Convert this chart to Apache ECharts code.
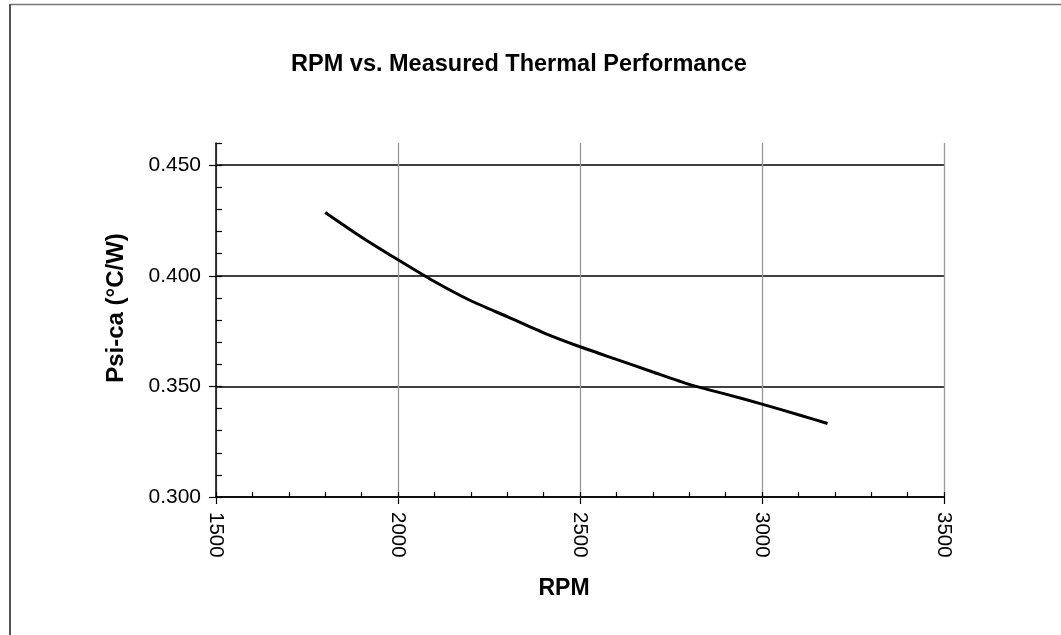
<!DOCTYPE html>
<html>
<head>
<meta charset="utf-8">
<script src="https://cdn.jsdelivr.net/npm/echarts@6/dist/echarts.min.js"></script>
<style>
html,body{margin:0;padding:0;background:#fff;}
#chart{width:1061px;height:635px;}
</style>
</head>
<body>
<div id="chart"></div>
<script>
// Data
const rpm = [1800, 1900, 2000, 2100, 2200, 2300, 2400, 2500, 2600, 2700, 2800, 2900, 3000, 3100, 3180];
const psiCa = [0.4286, 0.4174, 0.4072, 0.3974, 0.3887, 0.3815, 0.3742, 0.3679, 0.3622, 0.3565, 0.3509, 0.3465, 0.3420, 0.3372, 0.3332];
const yMajorTicks = [0.30, 0.35, 0.40, 0.45];
const xMajorTicks = [1500, 2000, 2500, 3000, 3500];

const FONT = '"Liberation Sans", Arial, sans-serif';
const seriesData = rpm.map((r, i) => [r, psiCa[i]]);

const chart = echarts.init(document.getElementById('chart'), null, {renderer: 'canvas'});
chart.setOption({
  animation: false,
  backgroundColor: '#fff',
  title: {
    text: 'RPM vs. Measured Thermal Performance',
    left: 514,
    top: 48,
    textAlign: 'center',
    textStyle: {fontFamily: FONT, fontSize: 23.5, fontWeight: 'bold', color: '#000'}
  },
  graphic: [
    {type: 'line', shape: {x1: 10, y1: 4.5, x2: 1061, y2: 4.5}, style: {stroke: '#777', lineWidth: 1.5}, silent: true},
    {type: 'line', shape: {x1: 10, y1: 4, x2: 10, y2: 635}, style: {stroke: '#555', lineWidth: 2}, silent: true}
  ],
  grid: {left: 216, right: 117, top: 143, bottom: 138, containLabel: false},
  xAxis: [
    {
      type: 'value', min: 1500, max: 3500, interval: 500,
      position: 'bottom',
      name: 'RPM', nameLocation: 'middle', nameGap: 80,
      nameTextStyle: {fontFamily: FONT, fontSize: 23, fontWeight: 'bold', color: '#000', padding: [0, 32, 0, 0]},
      axisLine: {show: true, lineStyle: {color: '#000', width: 1.5}},
      axisTick: {show: true, inside: false, length: 7, lineStyle: {color: '#000', width: 1.2}},
      axisLabel: {
        rotate: -90, margin: 15, fontFamily: FONT, fontSize: 20.5, color: '#000',
        customValues: xMajorTicks, formatter: v => String(v)
      },
      splitLine: {show: true, lineStyle: {color: '#999', width: 1.3}}
    },
    {
      type: 'value', min: 1500, max: 3500, interval: 100,
      position: 'bottom',
      axisLine: {show: false},
      axisTick: {show: true, inside: true, length: 5, lineStyle: {color: '#000', width: 1.2}},
      axisLabel: {show: false},
      splitLine: {show: false}
    }
  ],
  yAxis: [
    {
      type: 'value', min: 0.30, max: 0.46, interval: 0.05,
      position: 'left',
      name: 'Psi-ca (°C/W)', nameLocation: 'middle', nameGap: 88, nameRotate: 90,
      nameTextStyle: {fontFamily: FONT, fontSize: 24, fontWeight: 'bold', color: '#000', padding: [0, 0, 0, 24]},
      axisLine: {show: true, lineStyle: {color: '#000', width: 1.5}},
      axisTick: {show: true, inside: false, length: 7, customValues: yMajorTicks, lineStyle: {color: '#000', width: 1.2}},
      axisLabel: {
        margin: 15, fontFamily: FONT, fontSize: 21, color: '#000',
        customValues: yMajorTicks, formatter: v => v.toFixed(3)
      },
      splitLine: {show: true, lineStyle: {color: '#000', width: 1.5}}
    },
    {
      type: 'value', min: 0.30, max: 0.46, interval: 0.01,
      position: 'left',
      axisLine: {show: false},
      axisTick: {show: true, inside: true, length: 6, lineStyle: {color: '#000', width: 1.2}},
      axisLabel: {show: false},
      splitLine: {show: false}
    }
  ],
  series: [{
    type: 'line',
    xAxisIndex: 0, yAxisIndex: 0,
    data: seriesData,
    showSymbol: false,
    smooth: 0.2,
    lineStyle: {color: '#000', width: 3},
    z: 5
  }]
});
</script>
</body>
</html>
